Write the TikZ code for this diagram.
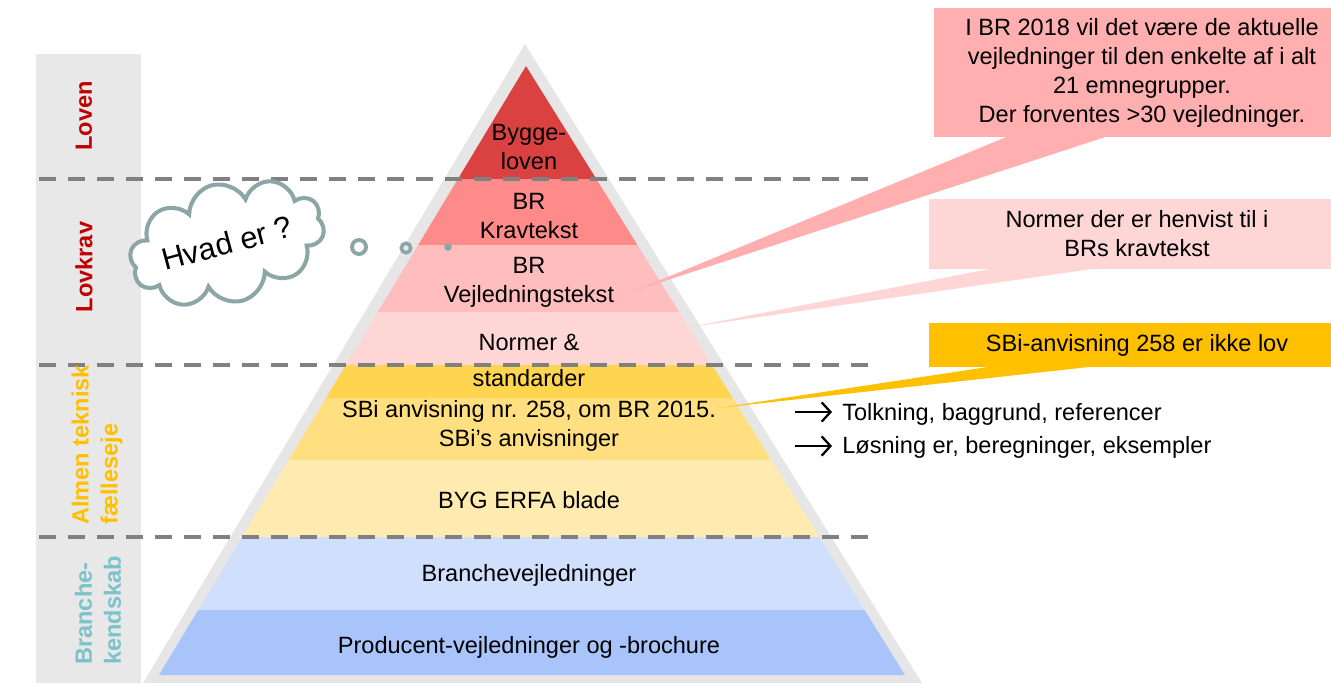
\documentclass[tikz,border=0pt]{standalone}
\usepackage{fontspec}
\setmainfont{Liberation Sans}
\usetikzlibrary{positioning,arrows.meta,shapes.symbols}
\definecolor{stripgray}{RGB}{232,232,232}
\definecolor{pyrgray}{RGB}{230,230,230}
\definecolor{dashgray}{RGB}{128,128,128}
\definecolor{lawred}{RGB}{192,0,0}
\definecolor{almgold}{RGB}{255,192,0}
\definecolor{brteal}{RGB}{124,194,202}
\definecolor{cloudgray}{RGB}{140,166,166}
\definecolor{byggeband}{RGB}{218,65,65}
\definecolor{kravband}{RGB}{255,138,138}
\definecolor{vejlband}{RGB}{255,189,189}
\definecolor{normband}{RGB}{255,214,214}
\definecolor{stdband}{RGB}{255,213,79}
\definecolor{sbiband}{RGB}{255,223,128}
\definecolor{bygband}{RGB}{255,235,175}
\definecolor{brband}{RGB}{208,223,252}
\definecolor{prodband}{RGB}{168,196,251}
\definecolor{call1}{RGB}{255,175,175}
\definecolor{call2}{RGB}{255,214,214}
\definecolor{call3}{RGB}{255,192,0}
\tikzset{
  txt/.style={align=center,inner sep=0pt,font=\fontsize{13.4}{16.5}\selectfont},
  side/.style={rotate=90,align=left,inner sep=0pt,font=\fontsize{13.4}{16.5}\selectfont\bfseries},
  dline/.style={draw=dashgray,line width=0.08cm,dash pattern=on 0.34cm off 0.24cm},
  callbox/.style={txt,minimum width=8.32cm},
  ring/.style={circle,draw=cloudgray,inner sep=0pt},
  arr/.style={-{Straight Barb[length=5pt,width=11pt]},line width=1.3pt,shorten >=0.2cm},
  thought/.style={cloud,cloud puffs=10,aspect=2.4,draw=cloudgray,line width=2.3pt,fill=white,inner sep=0pt,
    minimum width=3.9cm,minimum height=1.7cm,font=\fontsize{17.5}{20}\selectfont}
}
\begin{document}
\begin{tikzpicture}[x=0.02cm,y=-0.02cm]
  \useasboundingbox (0,0) rectangle (1331,683);
  \fill[stripgray] (36,54) rectangle (141,683);
  \fill[pyrgray] (525,44) -- (922,683) -- (143,683) -- cycle;
  \begin{scope}
    \clip (526,66) -- (905,675) -- (159,675) -- cycle;
    \fill[byggeband] (100,40) rectangle (960,179);
    \fill[kravband] (100,179) rectangle (960,245);
    \fill[vejlband] (100,245) rectangle (960,312);
    \fill[normband] (100,312) rectangle (960,365);
    \fill[stdband] (100,365) rectangle (960,398);
    \fill[sbiband] (100,398) rectangle (960,460);
    \fill[bygband] (100,460) rectangle (960,537);
    \fill[brband] (100,537) rectangle (960,610);
    \fill[prodband] (100,610) rectangle (960,680);
  \end{scope}
  \draw[dline] (39,179) -- (872,179);
  \draw[dline] (39,365) -- (872,365);
  \draw[dline] (39,537) -- (872,537);
  \node[txt] (bygge) at (529,147) {Bygge-\\loven};
  \node[txt] (krav) at (529,216) {BR\\Kravtekst};
  \node[txt] (vejl) at (529,282) {BR\\Vejledningstekst};
  \node[txt] (normer) at (529,360) {Normer \&\\[4pt]standarder};
  \node[txt] (sbi) at (529,426) {SBi anvisning nr. 258, om BR 2015.\\SBi’s anvisninger};
  \node[txt] (byg) at (529,500) {BYG ERFA blade};
  \node[txt] (branche) at (529,575) {Branchevejledninger};
  \node[txt] (prod) at (529,647) {Producent-vejledninger og -brochure};
  \node[side,lawred] (loven) at (84,116) {Loven};
  \node[side,lawred] (lovkrav) at (84,267) {Lovkrav};
  \node[side,almgold,anchor=west] (almen) at (97,525) {Almen teknisk\\fælleseje};
  \node[side,brteal,anchor=west] (brkend) at (98,665) {Branche-\\kendskab};
  \node[thought,rotate=15] (tanke) at (227,243) {Hvad er ?};
  \node[ring,line width=2.2pt,minimum size=8pt] (r1) at (359,247) {};
  \node[ring,line width=2pt,minimum size=5.4pt] (r2) at (406,248) {};
  \node[circle,fill=cloudgray,inner sep=0pt,minimum size=4.5pt] (r3) at (448,247) {};
  \node[callbox,fill=call1,minimum height=2.58cm] (c1) at (1142,72.5) {I BR 2018 vil det være de aktuelle\\vejledninger til den enkelte af i alt\\21 emnegrupper.\\Der forventes >30 vejledninger.};
  \node[callbox,fill=call2,minimum height=1.4cm] (c2) at (1137,234) {Normer der er henvist til i\\BRs kravtekst};
  \node[callbox,fill=call3,minimum height=0.88cm] (c3) at (1137,345) {SBi-anvisning 258 er ikke lov};
  \coordinate (tip1) at (634,291); \coordinate (tip2) at (690,327); \coordinate (tip3) at (718,408);
  \fill[call1] ([xshift=1.52cm,yshift=1pt]c1.south west) -- (tip1) -- ([xshift=3.52cm,yshift=1pt]c1.south west) -- cycle;
  \fill[call2] ([xshift=1.36cm,yshift=1pt]c2.south west) -- (tip2) -- ([xshift=3.46cm,yshift=1pt]c2.south west) -- cycle;
  \fill[call3] ([xshift=1.36cm,yshift=1pt]c3.south west) -- (tip3) -- ([xshift=3.46cm,yshift=1pt]c3.south west) -- cycle;
  \node[txt,anchor=west] (tolk) at (842,414) {Tolkning, baggrund, referencer};
  \node[txt,anchor=west] (losn) at (842,447) {Løsning er, beregninger, eksempler};
  \coordinate (a1) at (795,412); \coordinate (a2) at (795,446);
  \draw[arr] (a1) -- (a1 -| tolk.west);
  \draw[arr] (a2) -- (a2 -| losn.west);
\end{tikzpicture}
\end{document}
